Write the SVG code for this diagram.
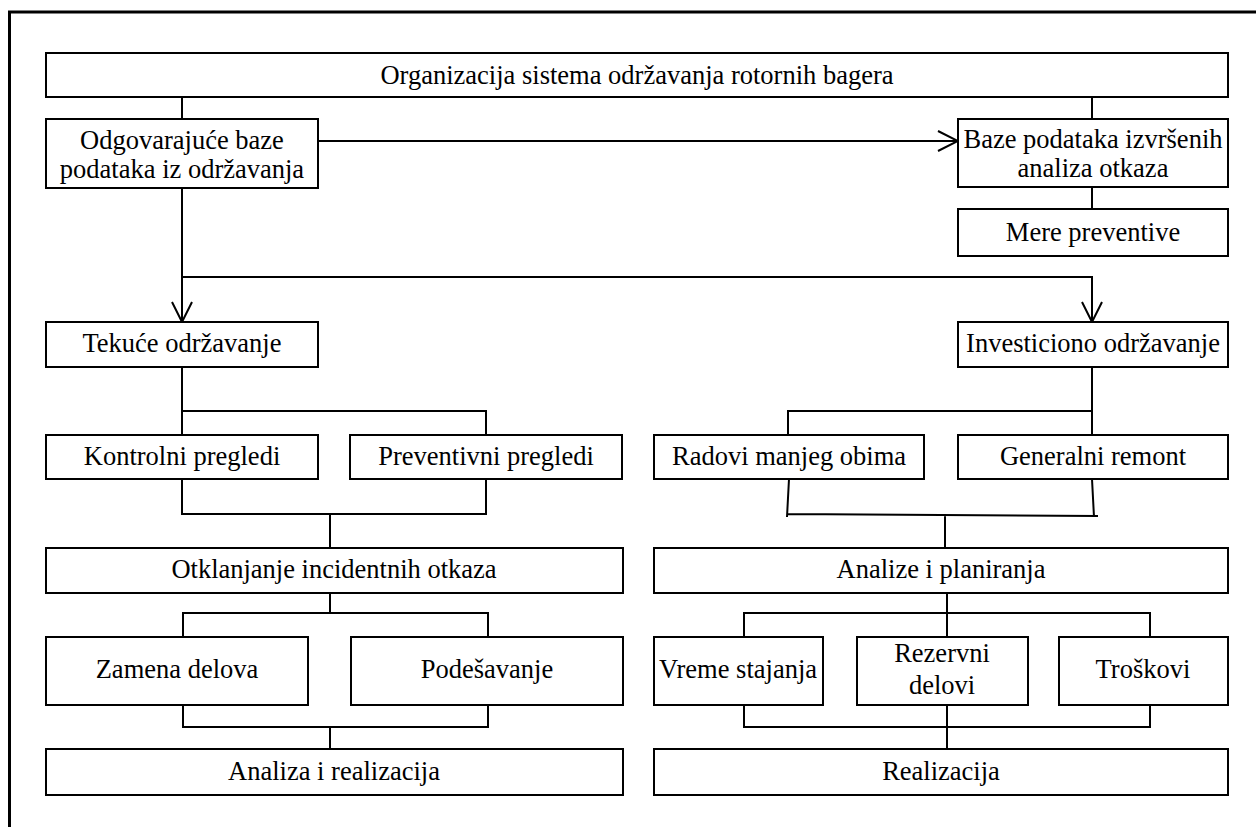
<svg xmlns="http://www.w3.org/2000/svg" width="1256" height="827" viewBox="0 0 1256 827" font-family="Liberation Serif, DejaVu Serif, serif">
<style>
.box{fill:#fff;stroke:#000;stroke-width:2}
text{font-size:26.5px;fill:#000;text-anchor:middle}
.c{fill:none;stroke:#000;stroke-width:2}
</style>
<defs>
<marker id="arr" viewBox="0 0 22 22" refX="21" refY="11" markerWidth="22" markerHeight="22" markerUnits="userSpaceOnUse" orient="auto">
<path d="M1,1 L21,11 L1,21" fill="none" stroke="#000" stroke-width="2"/>
</marker>
</defs>
<rect x="0" y="0" width="1256" height="827" fill="#fff"/>
<path d="M9.5,830 V12 H1260" fill="none" stroke="#000" stroke-width="3"/>
<g id="connectors">
<path class="c" d="M182,97 V119"/>
<path class="c" d="M1092,97 V119"/>
<path class="c" d="M1092,187 V209"/>
<path class="c" d="M318,141 H958" marker-end="url(#arr)"/>
<path class="c" d="M182,188 V322" marker-end="url(#arr)"/>
<path class="c" d="M182,277 H1092 V322" marker-end="url(#arr)"/>
<path class="c" d="M182,367 V435 M182,411 H486 V435"/>
<path class="c" d="M1092,367 V435 M1092,411 H788 V435"/>
<path class="c" d="M182,479 V514 H486 V479 M330,514 V548"/>
<path class="c" d="M789,479 L787,517 M1092,479 L1094,517 M787,514 L1098,516 M945,515 V548"/>
<path class="c" d="M330,593 V613 M183,637 V613 H488 V637"/>
<path class="c" d="M183,705 V727 H488 V705 M330,727 V749"/>
<path class="c" d="M947,593 V637 M744,637 V613 H1150 V637"/>
<path class="c" d="M744,705 V727 H1150 V705 M947,705 V749"/>
</g>
<g id="n_org"><rect class="box" x="46" y="53" width="1182" height="44"/><text x="637" y="84">Organizacija sistema održavanja rotornih bagera</text></g>
<g id="n_odg"><rect class="box" x="46" y="119" width="272" height="69"/><text x="182" y="149">Odgovarajuće baze</text><text x="182" y="178">podataka iz održavanja</text></g>
<g id="n_baze"><rect class="box" x="958" y="119" width="270" height="68"/><text x="1093" y="148">Baze podataka izvršenih</text><text x="1093" y="177">analiza otkaza</text></g>
<g id="n_mere"><rect class="box" x="958" y="209" width="270" height="47"/><text x="1093" y="241">Mere preventive</text></g>
<g id="n_tek"><rect class="box" x="46" y="322" width="272" height="45"/><text x="182" y="352">Tekuće održavanje</text></g>
<g id="n_inv"><rect class="box" x="958" y="322" width="270" height="45"/><text x="1093" y="352">Investiciono održavanje</text></g>
<g id="n_kon"><rect class="box" x="46" y="435" width="272" height="44"/><text x="182" y="465">Kontrolni pregledi</text></g>
<g id="n_prev"><rect class="box" x="350" y="435" width="272" height="44"/><text x="486" y="465">Preventivni pregledi</text></g>
<g id="n_rad"><rect class="box" x="654" y="435" width="270" height="44"/><text x="789" y="465">Radovi manjeg obima</text></g>
<g id="n_gen"><rect class="box" x="958" y="435" width="270" height="44"/><text x="1093" y="465">Generalni remont</text></g>
<g id="n_otk"><rect class="box" x="46" y="548" width="577" height="45"/><text x="334" y="578">Otklanjanje incidentnih otkaza</text></g>
<g id="n_anp"><rect class="box" x="654" y="548" width="574" height="45"/><text x="941" y="578">Analize i planiranja</text></g>
<g id="n_zam"><rect class="box" x="46" y="637" width="262" height="68"/><text x="177" y="678">Zamena delova</text></g>
<g id="n_pod"><rect class="box" x="351" y="637" width="272" height="68"/><text x="487" y="678">Podešavanje</text></g>
<g id="n_vre"><rect class="box" x="654" y="637" width="169" height="68"/><text x="738" y="678">Vreme stajanja</text></g>
<g id="n_rez"><rect class="box" x="857" y="637" width="171" height="68"/><text x="942" y="662">Rezervni</text><text x="942" y="694">delovi</text></g>
<g id="n_tro"><rect class="box" x="1059" y="637" width="169" height="68"/><text x="1143" y="678">Troškovi</text></g>
<g id="n_ana"><rect class="box" x="46" y="749" width="577" height="46"/><text x="334" y="780">Analiza i realizacija</text></g>
<g id="n_rea"><rect class="box" x="654" y="749" width="574" height="46"/><text x="941" y="780">Realizacija</text></g>
</svg>
